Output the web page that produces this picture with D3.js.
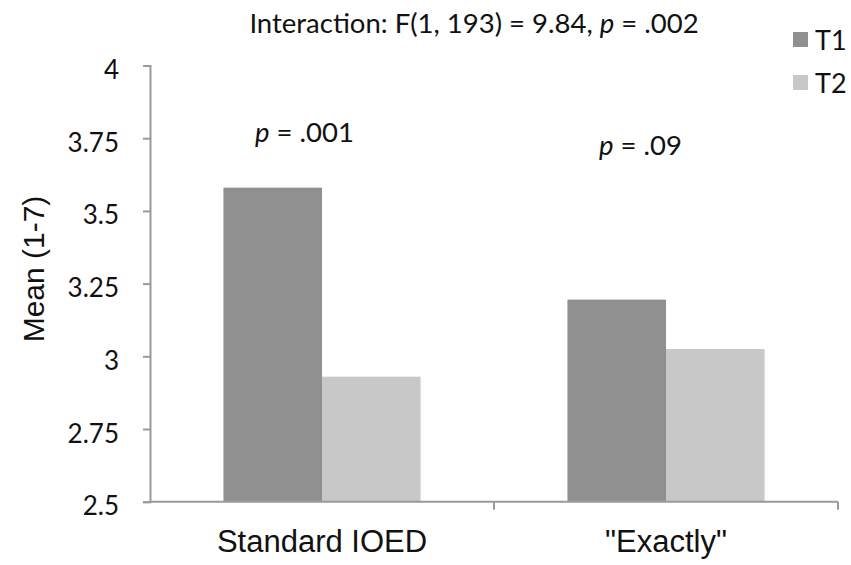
<!DOCTYPE html>
<html>
<head>
<meta charset="utf-8">
<script src="https://cdn.jsdelivr.net/npm/d3@7"></script>
<style>
  html, body { margin: 0; padding: 0; background: #fff; }
  svg { display: block; }
</style>
</head>
<body>
<svg id="chart" width="851" height="565"></svg>
<script>
// Mean ratings (1-7 scale) at two time points, for two question framings
const categories = ["Standard IOED", "\"Exactly\""];
const seriesNames = ["T1", "T2"];
const t1Values = [3.58, 3.195];
const t2Values = [2.93, 3.025];
const pLabels = [".001", ".09"];
const yTicks = [2.5, 2.75, 3, 3.25, 3.5, 3.75, 4];
const yTickLabels = ["2.5", "2.75", "3", "3.25", "3.5", "3.75", "4"];

const colors = { T1: "#909090", T2: "#c8c8c8" };
const axisColor = "#9a9a9a";
const calibriLike = "Lato, 'Open Sans', sans-serif";
const arialLike = "'Liberation Sans', Arial, sans-serif";

const svg = d3.select("#chart");
const margin = { left: 150, right: 13, top: 65.5, bottom: 63.3 };
const W = 851, H = 565;

const x = d3.scaleBand()
  .domain(categories)
  .range([margin.left, W - margin.right])
  .paddingInner(0)
  .paddingOuter(0);

const x1 = d3.scaleBand()
  .domain(seriesNames)
  .range([0, x.bandwidth()])
  .paddingInner(0)
  .paddingOuter(0.745);

const y = d3.scaleLinear()
  .domain([2.5, 4])
  .range([H - margin.bottom, margin.top]);

const rows = categories.map((c, i) => ({ cat: c, T1: t1Values[i], T2: t2Values[i], p: pLabels[i] }));

// Bars
const groups = svg.append("g").selectAll("g")
  .data(rows)
  .join("g")
  .attr("transform", d => `translate(${x(d.cat)},0)`);

groups.selectAll("rect")
  .data(d => seriesNames.map(s => ({ s, v: d[s] })))
  .join("rect")
  .attr("x", d => x1(d.s))
  .attr("width", x1.bandwidth())
  .attr("y", d => y(d.v))
  .attr("height", d => y(2.5) - y(d.v))
  .attr("fill", d => colors[d.s]);

// Y axis
const yAxis = d3.axisLeft(y)
  .tickValues(yTicks)
  .tickFormat((d, i) => yTickLabels[i])
  .tickSize(7)
  .tickPadding(24);

const gy = svg.append("g")
  .attr("transform", `translate(${margin.left},0)`)
  .call(yAxis);
gy.select(".domain").attr("stroke", axisColor).attr("stroke-width", 2);
gy.selectAll(".tick line").attr("stroke", axisColor).attr("stroke-width", 2);
gy.selectAll(".tick text")
  .attr("fill", "#111")
  .attr("dy", "0.5em")
  .style("font-family", calibriLike)
  .style("font-size", "26px");

// X axis: ticks at category boundaries
const xAxisG = svg.append("g").attr("transform", `translate(0,${y(2.5)})`);
xAxisG.append("line")
  .attr("x1", margin.left).attr("x2", W - margin.right)
  .attr("stroke", axisColor).attr("stroke-width", 2);
const boundaries = categories.map(c => x(c) + x.bandwidth());
xAxisG.selectAll("line.tk")
  .data(boundaries)
  .join("line")
  .attr("class", "tk")
  .attr("x1", d => d).attr("x2", d => d)
  .attr("y1", 0).attr("y2", 8)
  .attr("stroke", axisColor).attr("stroke-width", 2);
xAxisG.selectAll("text")
  .data(categories)
  .join("text")
  .attr("x", d => x(d) + x.bandwidth() / 2)
  .attr("y", 50)
  .attr("text-anchor", "middle")
  .attr("fill", "#111")
  .style("font-family", arialLike)
  .style("font-size", "31px")
  .text(d => d);

// Y axis title
svg.append("text")
  .attr("transform", `translate(44,${(193 + 345) / 2}) rotate(-90)`)
  .attr("text-anchor", "middle")
  .attr("fill", "#111")
  .style("font-family", arialLike)
  .style("font-size", "30px")
  .text("Mean (1-7)");

// Chart title
const title = svg.append("text")
  .attr("x", 474)
  .attr("y", 33)
  .attr("text-anchor", "middle")
  .attr("fill", "#111")
  .style("font-family", calibriLike)
  .style("font-size", "27.5px");
title.append("tspan").text("Interaction: F(1, 193) = 9.84, ");
title.append("tspan").style("font-style", "italic").text("p");
title.append("tspan").text(" = .002");

// Per-category significance labels
const pY = [141.5, 155];
svg.append("g").selectAll("text")
  .data(rows)
  .join("text")
  .attr("x", d => x(d.cat) + x.bandwidth() / 2 - 67)
  .attr("y", (d, i) => pY[i])
  .attr("fill", "#111")
  .style("font-family", calibriLike)
  .style("font-size", "27.5px")
  .each(function (d) {
    const t = d3.select(this);
    t.append("tspan").style("font-style", "italic").text("p");
    t.append("tspan").text(" = " + d.p);
  });

// Legend
const legend = svg.append("g").selectAll("g")
  .data(seriesNames)
  .join("g")
  .attr("transform", (d, i) => `translate(793,${32 + i * 43})`);
legend.append("rect")
  .attr("width", 15).attr("height", 15)
  .attr("fill", d => colors[d]);
legend.append("text")
  .attr("x", 22).attr("y", 18)
  .attr("fill", "#111")
  .style("font-family", calibriLike)
  .style("font-size", "27px")
  .text(d => d);
</script>
</body>
</html>
